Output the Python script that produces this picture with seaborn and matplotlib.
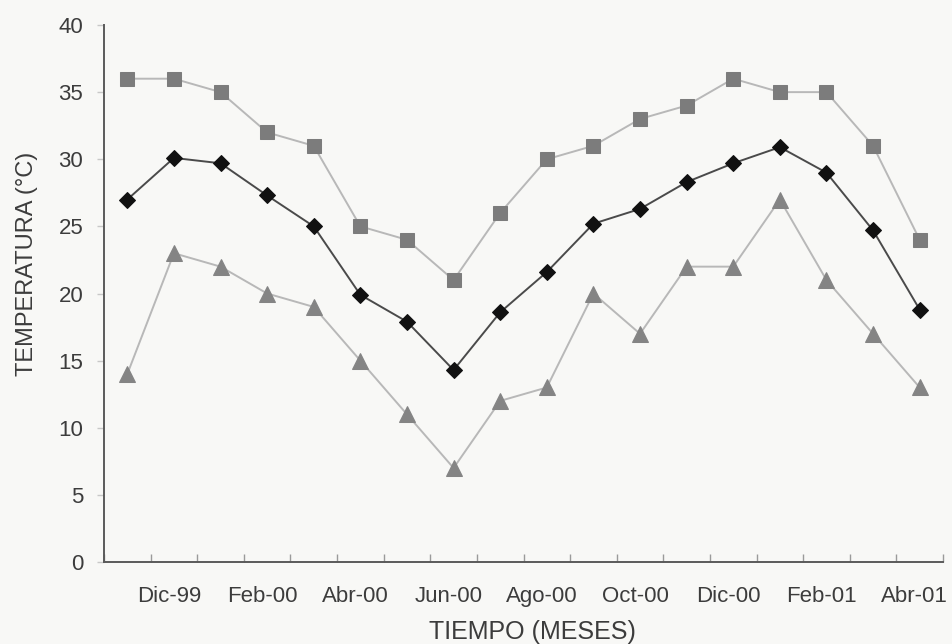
import matplotlib
matplotlib.use("Agg")
import matplotlib.pyplot as plt
import matplotlib.transforms as mtransforms
import seaborn as sns
import pandas as pd
from matplotlib.ticker import FixedLocator, NullFormatter

# Monthly temperatures, Nov-99 .. Abr-01
meses = ["Nov-99", "Dic-99", "Ene-00", "Feb-00", "Mar-00", "Abr-00", "May-00",
         "Jun-00", "Jul-00", "Ago-00", "Sep-00", "Oct-00", "Nov-00", "Dic-00",
         "Ene-01", "Feb-01", "Mar-01", "Abr-01"]
t_max = [36, 36, 35, 32, 31, 25, 24, 21, 26, 30, 31, 33, 34, 36, 35, 35, 31, 24]
t_media = [27.0, 30.1, 29.7, 27.3, 25.0, 19.9, 17.9, 14.3, 18.6, 21.6, 25.2,
           26.3, 28.3, 29.7, 30.9, 29.0, 24.7, 18.8]
t_min = [14, 23, 22, 20, 19, 15, 11, 7, 12, 13, 20, 17, 22, 22, 27, 21, 17, 13]

etiquetas = ["Dic-99", "Feb-00", "Abr-00", "Jun-00", "Ago-00", "Oct-00",
             "Dic-00", "Feb-01", "Abr-01"]

df = pd.DataFrame({"idx": range(len(meses)), "mes": meses,
                   "max": t_max, "media": t_media, "min": t_min})

sns.set_theme(style="white")
plt.rcParams["font.family"] = ["Liberation Sans", "DejaVu Sans"]
text_color = "#3c3c3c"
bg = "#f8f8f6"

fig = plt.figure(figsize=(9.52, 6.44), dpi=100, facecolor=bg)
ax = fig.add_axes([104 / 952, 1 - 562 / 644, 839 / 952, 537 / 644])
ax.set_facecolor(bg)

sns.lineplot(data=df, x="idx", y="max", ax=ax, color="#b8b8b8", lw=1.4,
             marker="s", markersize=10, markerfacecolor="#7c7c7c",
             markeredgecolor="#7c7c7c")
sns.lineplot(data=df, x="idx", y="media", ax=ax, color="#4a4a4a", lw=1.4,
             marker="D", markersize=8, markerfacecolor="#111111",
             markeredgecolor="#111111")
sns.lineplot(data=df, x="idx", y="min", ax=ax, color="#b8b8b8", lw=1.4,
             marker="^", markersize=11, markerfacecolor="#848484",
             markeredgecolor="#848484")

ax.set_xlim(-0.5, len(meses) - 0.5)
ax.set_ylim(0, 40)

# labels on every other month, tick marks on the month boundaries
label_pos = [i for i, m in enumerate(meses) if m in etiquetas]
ax.set_xticks(label_pos)
ax.set_xticklabels(etiquetas)
ax.xaxis.set_minor_locator(FixedLocator([i - 0.5 for i in range(len(meses) + 1)]))
ax.xaxis.set_minor_formatter(NullFormatter())
ax.tick_params(axis="x", which="major", length=0, pad=17, labelsize=16,
               labelcolor=text_color)
ax.tick_params(axis="x", which="minor", direction="in", length=6, width=1,
               color="#9a9a9a", bottom=True)
shift = mtransforms.ScaledTranslation(-5 / 100, 0, fig.dpi_scale_trans)
for lbl in ax.get_xticklabels():
    lbl.set_transform(lbl.get_transform() + shift)

ax.set_yticks(range(0, 41, 5))
ax.tick_params(axis="y", direction="out", length=5, width=1, color="#c8c8c8",
               pad=10, labelsize=16, labelcolor=text_color, left=True)

for side in ("top", "right"):
    ax.spines[side].set_visible(False)
for side in ("left", "bottom"):
    ax.spines[side].set_color("#5a5a5a")
    ax.spines[side].set_linewidth(1.4)

ax.set_xlabel("TIEMPO (MESES)", fontsize=18, color=text_color, va="center")
ax.set_ylabel("TEMPERATURA (°C)", fontsize=17, color=text_color, va="center")
ax.xaxis.set_label_coords(0.511, -0.131)
ax.yaxis.set_label_coords(-0.092, 0.555)

fig.savefig("out.png", dpi=100, facecolor=bg)
